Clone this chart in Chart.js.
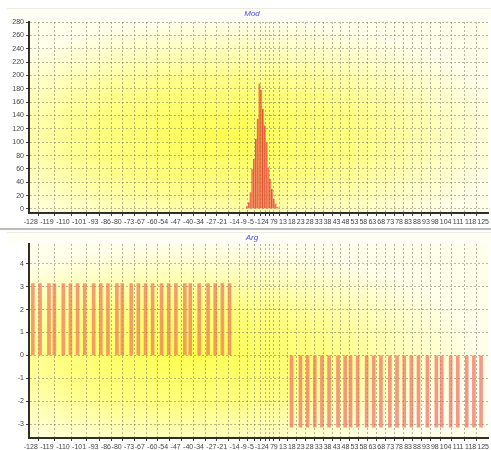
<!DOCTYPE html>
<html><head><meta charset="utf-8">
<script src="https://cdn.jsdelivr.net/npm/chart.js@4.4.1/dist/chart.umd.min.js"></script>
<style>
html,body{margin:0;padding:0;background:#fff;width:491px;height:450px;overflow:hidden}
#c1{position:absolute;left:0;top:0}
#sep{position:absolute;left:0;top:228px;width:491px;height:2px;background:#bdbdbd}
#c2{position:absolute;left:0;top:230px}
</style></head>
<body>
<canvas id="c1" width="491" height="228"></canvas>
<div id="sep"></div>
<canvas id="c2" width="491" height="220"></canvas>
<script>
// ---- data ----
const xTickValues = [-128,-119,-110,-101,-93,-86,-80,-73,-67,-60,-54,-47,-40,-34,-27,-21,-14,-9,-5,-1,2,4,7,9,13,18,23,28,33,38,43,48,53,58,63,68,73,78,83,88,93,98,104,111,118,125];
const modTicks = [0,20,40,60,80,100,120,140,160,180,200,220,240,260,280];
const argTicks = [-3,-2,-1,0,1,2,3,4];

const modX = [-7,-6,-5,-4,-3,-2,-1,0,1,2,3,4,5,6,7,8,9,10];
const modY = [4,10,25,60,75,105,135,188,178,150,125,100,62,45,30,15,8,3];

const argPosX = [-126,-122,-117,-114,-109,-105,-101,-97,-92,-88,-84,-79,-76,-71,-67,-63,-59,-54,-50,-46,-41,-38,-33,-28,-24,-20,-16];
const argPosY = [3.14,3.14,3.14,3.14,3.14,3.14,3.14,3.14,3.14,3.14,3.14,3.14,3.14,3.14,3.14,3.14,3.14,3.14,3.14,3.14,3.14,3.14,3.14,3.14,3.14,3.14,3.14];
const argNegX = [17,22,26,30,34,38,43,47,50,54,59,63,67,72,76,80,84,88,93,98,101,106,110,115,119,123];
const argNegY = [-3.14,-3.14,-3.14,-3.14,-3.14,-3.14,-3.14,-3.14,-3.14,-3.14,-3.14,-3.14,-3.14,-3.14,-3.14,-3.14,-3.14,-3.14,-3.14,-3.14,-3.14,-3.14,-3.14,-3.14,-3.14,-3.14];

const FONT = '"Liberation Sans", Arial, sans-serif';

const bgPlugin = {
  id: 'bg',
  beforeDraw(chart, args, o) {
    const ctx = chart.ctx, a = chart.chartArea;
    ctx.save();
    ctx.fillStyle = '#fffff7';
    ctx.fillRect(7, o.bandY, chart.width - 7, o.bandH);
    ctx.strokeStyle = '#ecece0';
    ctx.lineWidth = 1;
    ctx.beginPath();
    ctx.moveTo(7, o.bandY + 0.5); ctx.lineTo(chart.width, o.bandY + 0.5);
    ctx.stroke();
    ctx.restore();
    ctx.save();
    ctx.beginPath();
    ctx.rect(a.left, a.top, a.right - a.left, a.bottom - a.top);
    ctx.clip();
    ctx.translate(o.cx, o.cy);
    ctx.scale(o.rx / o.ry, 1);
    const g = ctx.createRadialGradient(0, 0, 0, 0, 0, o.ry);
    g.addColorStop(0, 'rgb(255,255,80)');
    g.addColorStop(0.45, 'rgb(255,255,130)');
    g.addColorStop(0.8, 'rgb(255,255,200)');
    g.addColorStop(1, 'rgb(255,255,236)');
    ctx.fillStyle = g;
    ctx.fillRect(-3000, -3000, 6000, 6000);
    ctx.restore();
    ctx.save();
    ctx.font = 'italic 8px ' + FONT;
    ctx.fillStyle = '#4b4bf0';
    ctx.textAlign = 'center';
    ctx.textBaseline = 'middle';
    ctx.fillText(o.title, o.tx, o.ty);
    ctx.restore();
  }
};

function makeOptions(yMin, yMax, yTickArr, xHeight, topPad, bg) {
  const gridCol = 'rgba(125,125,100,0.55)';
  return {
    responsive: false,
    animation: false,
    devicePixelRatio: 1,
    layout: { padding: { top: topPad, right: 2, left: 0, bottom: 0 } },
    plugins: { legend: { display: false }, tooltip: { enabled: false }, title: { display: false }, bg: bg },
    scales: {
      x: {
        type: 'linear', min: -129, max: 128, offset: false,
        afterBuildTicks: s => { s.ticks = xTickValues.map(v => ({ value: v })); },
        afterFit: s => { s.height = xHeight; },
        ticks: { autoSkip: false, maxRotation: 0, minRotation: 0, padding: 2, color: '#444', font: { size: 7, family: FONT } },
        grid: { color: gridCol, lineWidth: 1, drawTicks: true, tickLength: 3, tickColor: '#444' },
        border: { display: true, color: '#2f2f25', width: 2, dash: [2, 2] }
      },
      y: {
        type: 'linear', min: yMin, max: yMax,
        afterBuildTicks: s => { s.ticks = yTickArr.map(v => ({ value: v })); },
        afterFit: s => { s.width = 29; },
        ticks: { padding: 2, color: '#444', font: { size: 7, family: FONT } },
        grid: { color: gridCol, lineWidth: 1, drawTicks: true, tickLength: 3, tickColor: '#444' },
        border: { display: true, color: '#2f2f25', width: 2, dash: [2, 2] }
      }
    }
  };
}

new Chart(document.getElementById('c1'), {
  type: 'bar',
  data: {
    datasets: [{
      label: 'Mod',
      data: modX.map((x, i) => ({ x: x, y: modY[i] })),
      backgroundColor: 'rgba(244,145,100,0.9)',
      borderColor: 'rgba(222,50,35,0.85)',
      borderWidth: { left: 1, right: 0, top: 0, bottom: 0 },
      borderSkipped: false,
      barPercentage: 1, categoryPercentage: 1
    }]
  },
  options: makeOptions(-6, 280, modTicks, 15, 22,
    { title: 'Mod', tx: 252, ty: 14, bandY: 8, bandH: 14, cx: 225, cy: 135, rx: 290, ry: 115 }),
  plugins: [bgPlugin]
});

new Chart(document.getElementById('c2'), {
  type: 'bar',
  data: {
    datasets: [{
      label: 'Arg+',
      data: argPosX.map((x, i) => ({ x: x, y: argPosY[i] })),
      backgroundColor: 'rgba(240,120,85,0.72)',
      borderWidth: 0,
      barThickness: 3
    }, {
      label: 'Arg-',
      data: argNegX.map((x, i) => ({ x: x, y: argNegY[i] })),
      backgroundColor: 'rgba(240,110,95,0.7)',
      borderWidth: 0,
      barThickness: 3
    }]
  },
  options: makeOptions(-3.61, 4.87, argTicks, 12, 14,
    { title: 'Arg', tx: 252, ty: 8, bandY: 2, bandH: 12, cx: 190, cy: 125, rx: 290, ry: 110 }),
  plugins: [bgPlugin]
});
</script>
</body></html>
